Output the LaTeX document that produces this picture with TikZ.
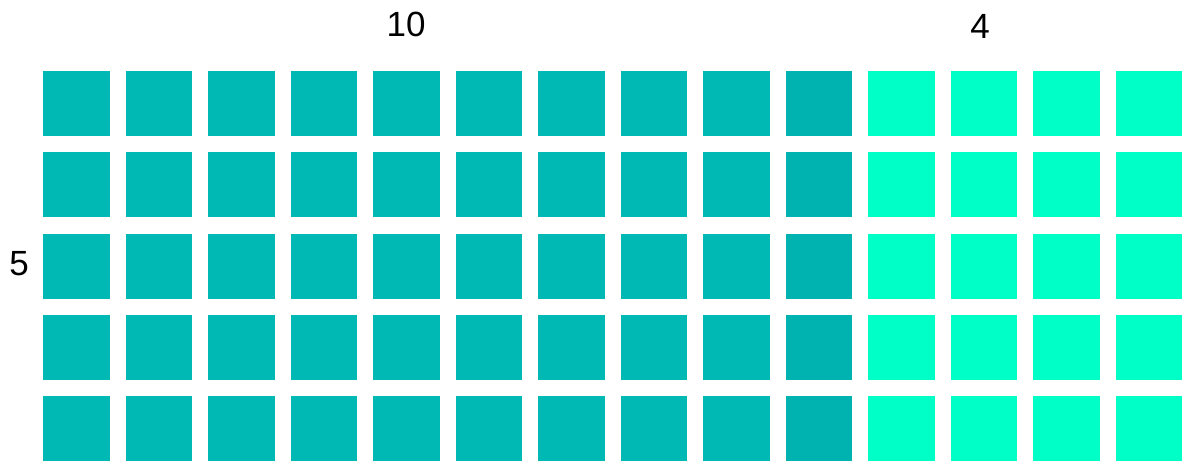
\documentclass[tikz,border=0pt]{standalone}
\usepackage{fontspec}
\setmainfont{Liberation Sans}
\definecolor{tealdark}{HTML}{00B9B5}
\definecolor{tealdeep}{HTML}{00B3B0}
\definecolor{mint}{HTML}{00FFC6}
\tikzset{
  cell/.style={inner sep=0pt, outer sep=0pt, minimum width=66.5pt, minimum height=65pt, anchor=north west},
  dk/.style={cell, fill=tealdark},
  dp/.style={cell, fill=tealdeep},
  lt/.style={cell, fill=mint},
  lbl/.style={font=\fontsize{35}{40}\selectfont, inner sep=0pt}
}
\begin{document}
\begin{tikzpicture}[x=1pt,y=-1pt]
\useasboundingbox (0,0) rectangle (1183,461);
\clip (0,0) rectangle (1183,461);
\foreach \r in {0,...,4}{
  \foreach \c in {0,...,13}{
    \pgfmathsetmacro{\xx}{43.3+82.5*\c}
    \pgfmathsetmacro{\yy}{71+81.25*\r}
    \ifnum\c<9
      \node[dk] (s-\r-\c) at (\xx,\yy) {};
    \else\ifnum\c=9
      \node[dp] (s-\r-\c) at (\xx,\yy) {};
    \else
      \node[lt] (s-\r-\c) at (\xx,\yy) {};
    \fi\fi
  }
}
\node[lbl] (ten) at (406,24) {10};
\node[lbl] (four) at (980,26) {4};
\node[lbl] (five) at (19,264) {5};
\end{tikzpicture}
\end{document}
